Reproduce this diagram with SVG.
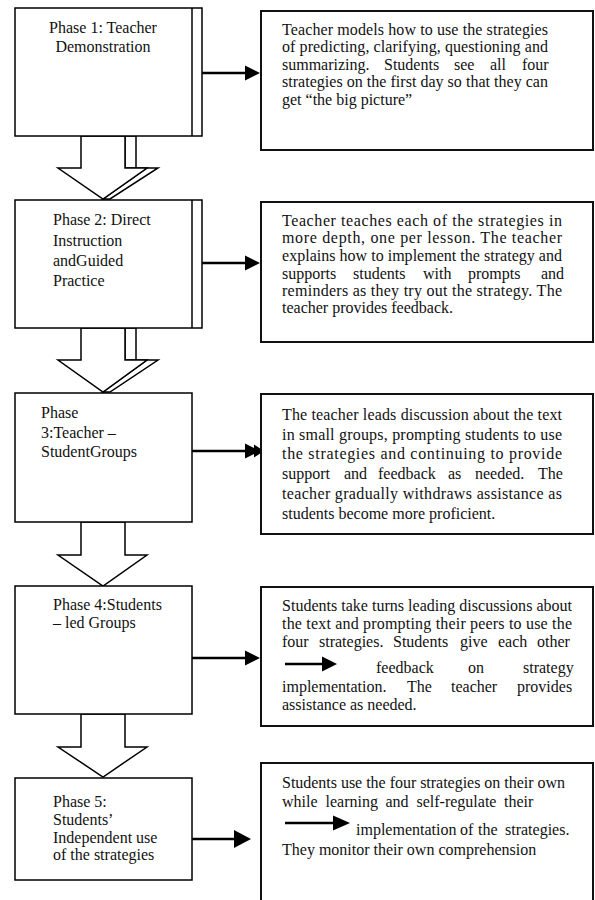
<svg xmlns="http://www.w3.org/2000/svg" width="595" height="900" viewBox="0 0 595 900">
<style>
text{font-family:"Liberation Serif","Times New Roman",serif;font-size:16px;fill:#111}
.pb{fill:#fff;stroke:#000;stroke-width:1.5}
.db{fill:#fff;stroke:#111;stroke-width:2}
.ba{fill:#fff;stroke:#000;stroke-width:1.5;stroke-linejoin:miter}
.ln{stroke:#000;stroke-width:2.5;fill:none}
.hd{fill:#000}
</style>
<rect width="595" height="900" fill="#fff"/>

<g id="connectors">
  <g id="block12">
    <polygon class="ba" points="125,136 136,136 136,168 158,168 110,199 103,199 147,168 125,168"/>
    <polygon class="ba" points="81,136 125,136 125,168 147,168 103,199 58,168 81,168"/>
  </g>
  <g id="block23">
    <polygon class="ba" points="125,328 136,328 136,360 158,360 110,392 103,392 147,360 125,360"/>
    <polygon class="ba" points="81,328 125,328 125,360 147,360 103,392 58,360 81,360"/>
  </g>
  <polygon id="block34" class="ba" points="81,522 125,522 125,555 147,555 103,586 58,555 81,555"/>
  <polygon id="block45" class="ba" points="81,714 125,714 125,747 147,747 103,777 58,747 81,747"/>
  <line class="ln" x1="192" y1="73" x2="247" y2="73"/>
  <polygon class="hd" points="245,65.5 260,73 245,80.5"/>
  <line class="ln" x1="192" y1="263" x2="247" y2="263"/>
  <polygon class="hd" points="245,255.5 260,263 245,270.5"/>
  <line class="ln" x1="192" y1="451" x2="247" y2="451"/>
  <polygon class="hd" points="245,443.5 260,451 245,458.5"/>
  <polygon class="hd" points="254,444.5 264,451 254,457.5"/>
  <line class="ln" x1="192" y1="658" x2="247" y2="658"/>
  <polygon class="hd" points="245,650.5 260,658 245,665.5"/>
  <line class="ln" x1="192" y1="839" x2="236" y2="839"/>
  <polygon class="hd" points="234,830 251,839 234,848"/>
</g>

<g id="phase1">
  <rect class="pb" x="15" y="8" width="187" height="128"/>
  <line stroke="#000" stroke-width="1.5" x1="192" y1="8" x2="192" y2="136"/>
  <text x="103" y="33" text-anchor="middle">Phase 1: Teacher</text>
  <text x="103" y="52" text-anchor="middle">Demonstration</text>
</g>
<g id="phase2">
  <rect class="pb" x="15" y="200" width="187" height="128"/>
  <line stroke="#000" stroke-width="1.5" x1="192" y1="200" x2="192" y2="328"/>
  <text x="53" y="225">Phase 2: Direct</text>
  <text x="53" y="246">Instruction</text>
  <text x="53" y="266">andGuided</text>
  <text x="53" y="286">Practice</text>
</g>
<g id="phase3">
  <rect class="pb" x="15" y="393" width="177" height="129"/>
  <text x="41" y="418">Phase</text>
  <text x="41" y="438">3:Teacher –</text>
  <text x="41" y="457">StudentGroups</text>
</g>
<g id="phase4">
  <rect class="pb" x="15" y="586" width="177" height="128"/>
  <text x="53" y="610">Phase 4:Students</text>
  <text x="53" y="628">– led Groups</text>
</g>
<g id="phase5">
  <rect class="pb" x="15" y="778" width="177" height="102"/>
  <text x="53" y="807">Phase 5:</text>
  <text x="53" y="825">Students’</text>
  <text x="53" y="843">Independent use</text>
  <text x="53" y="860">of the strategies</text>
</g>

<g id="desc1">
  <rect class="db" x="261" y="11" width="332" height="139"/>
  <text x="282" y="35" textLength="266" lengthAdjust="spacing">Teacher models how to use the strategies</text>
  <text x="282" y="52" textLength="266" lengthAdjust="spacing">of predicting, clarifying, questioning and</text>
  <text y="70"><tspan x="282">summarizing.</tspan><tspan x="384">Students</tspan><tspan x="454">see</tspan><tspan x="490">all</tspan><tspan x="522">four</tspan></text>
  <text x="282" y="87" textLength="266" lengthAdjust="spacing">strategies on the first day so that they can</text>
  <text x="282" y="105">get “the big picture”</text>
</g>
<g id="desc2">
  <rect class="db" x="261" y="202" width="332" height="140"/>
  <text x="282" y="226" textLength="280" lengthAdjust="spacing">Teacher teaches each of the strategies in</text>
  <text x="282" y="243" textLength="280" lengthAdjust="spacing">more depth, one per lesson. The teacher</text>
  <text x="282" y="261" textLength="280" lengthAdjust="spacing">explains how to implement the strategy and</text>
  <text y="279"><tspan x="282">supports</tspan><tspan x="353">students</tspan><tspan x="423">with</tspan><tspan x="468">prompts</tspan><tspan x="541">and</tspan></text>
  <text x="282" y="296" textLength="280" lengthAdjust="spacing">reminders as they try out the strategy. The</text>
  <text x="282" y="313">teacher provides feedback.</text>
</g>
<g id="desc3">
  <rect class="db" x="261" y="394" width="332" height="140"/>
  <text x="282" y="420" textLength="280" lengthAdjust="spacing">The teacher leads discussion about the text</text>
  <text x="282" y="440" textLength="280" lengthAdjust="spacing">in small groups, prompting students to use</text>
  <text x="282" y="459" textLength="280" lengthAdjust="spacing">the strategies and continuing to provide</text>
  <text y="479"><tspan x="282">support</tspan><tspan x="344">and</tspan><tspan x="378">feedback</tspan><tspan x="448">as</tspan><tspan x="475">needed.</tspan><tspan x="538">The</tspan></text>
  <text x="282" y="499" textLength="280" lengthAdjust="spacing">teacher gradually withdraws assistance as</text>
  <text x="282" y="519">students become more proficient.</text>
</g>
<g id="desc4">
  <rect class="db" x="261" y="587" width="332" height="139"/>
  <text x="282" y="611" textLength="290" lengthAdjust="spacing">Students take turns leading discussions about</text>
  <text x="282" y="629" textLength="290" lengthAdjust="spacing">the text and prompting their peers to use the</text>
  <text y="647"><tspan x="282">four</tspan><tspan x="319">strategies.</tspan><tspan x="393">Students</tspan><tspan x="460">give</tspan><tspan x="498">each</tspan><tspan x="537">other</tspan></text>
  <line class="ln" x1="285" y1="664" x2="324" y2="664"/>
  <polygon class="hd" points="322,656.5 337,664 322,671.5"/>
  <text y="673"><tspan x="376">feedback</tspan><tspan x="468">on</tspan><tspan x="523">strategy</tspan></text>
  <text y="692"><tspan x="282">implementation.</tspan><tspan x="407">The</tspan><tspan x="451">teacher</tspan><tspan x="517">provides</tspan></text>
  <text x="282" y="710">assistance as needed.</text>
</g>
<g id="desc5">
  <rect class="db" x="261" y="763" width="332" height="150"/>
  <text x="282" y="788" textLength="283" lengthAdjust="spacing">Students use the four strategies on their own</text>
  <text y="807"><tspan x="282">while</tspan><tspan x="325.5">learning</tspan><tspan x="385.5">and</tspan><tspan x="416.5">self-regulate</tspan><tspan x="504">their</tspan></text>
  <line class="ln" x1="285" y1="823" x2="335" y2="823"/>
  <polygon class="hd" points="333,815.5 350,823 333,830.5"/>
  <text y="835"><tspan x="356">implementation</tspan><tspan x="460">of</tspan><tspan x="478">the</tspan><tspan x="505">strategies.</tspan></text>
  <text x="282" y="855">They monitor their own comprehension</text>
</g>
</svg>
